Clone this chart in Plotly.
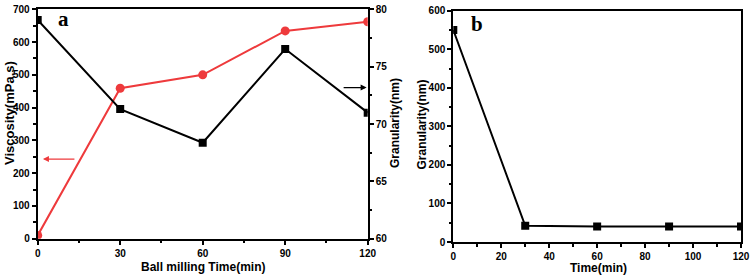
import plotly.graph_objects as go

# ---- data ----
time_a = [0, 30, 60, 90, 120]
viscosity = [10, 459, 500, 634, 662]
granularity_a = [79.07, 71.3, 68.37, 76.54, 70.99]

time_b = [0, 30, 60, 90, 120]
granularity_b = [550, 42, 40, 40, 40]

xticks_a = [0, 30, 60, 90, 120]
yticks_visc = [0, 100, 200, 300, 400, 500, 600, 700]
yticks_gran_a = [60, 65, 70, 75, 80]
xticks_b = [0, 20, 40, 60, 80, 100, 120]
yticks_b = [0, 100, 200, 300, 400, 500, 600]

RED = "#ee3a3c"
W, H = 751, 276

fig = go.Figure()

fig.add_trace(go.Scatter(
    x=time_a, y=viscosity, mode="lines+markers", xaxis="x", yaxis="y",
    line=dict(color=RED, width=2), marker=dict(symbol="circle", size=9, color=RED),
    showlegend=False))
fig.add_trace(go.Scatter(
    x=time_a, y=granularity_a, mode="lines+markers", xaxis="x", yaxis="y2",
    line=dict(color="black", width=2), marker=dict(symbol="square", size=8, color="black"),
    showlegend=False))
fig.add_trace(go.Scatter(
    x=time_b, y=granularity_b, mode="lines+markers", xaxis="x2", yaxis="y3",
    line=dict(color="black", width=2), marker=dict(symbol="square", size=8, color="black"),
    showlegend=False))

tickfont = dict(family="Arial, Liberation Sans", size=10, color="black", weight="bold")
common = dict(showgrid=False, zeroline=False, showline=True, linecolor="black", linewidth=2,
              ticks="outside", ticklen=4, tickwidth=1.5, tickcolor="black", tickfont=tickfont,
              automargin=False)

def px_x(p):
    return p / W

def px_y(p):
    return 1 - p / H

fig.update_layout(
    width=W, height=H, margin=dict(l=0, r=0, t=0, b=0, autoexpand=False),
    paper_bgcolor="white", plot_bgcolor="white",
    xaxis=dict(domain=[px_x(37.7), px_x(367.7)], range=[0, 120], tickvals=xticks_a,
               mirror=True, anchor="y",
               minor=dict(ticks="outside", ticklen=2.5, tickwidth=1.5, tickcolor="black", dtick=15),
               **common),
    yaxis=dict(domain=[px_y(238.7), px_y(9.3)], range=[0, 700], tickvals=yticks_visc,
               anchor="x",
               minor=dict(ticks="outside", ticklen=2.5, tickwidth=1.5, tickcolor="black", dtick=50),
               **common),
    yaxis2=dict(domain=[px_y(238.7), px_y(9.3)], range=[60, 80], tickvals=yticks_gran_a,
                overlaying="y", side="right", anchor="x",
                minor=dict(ticks="outside", ticklen=2.5, tickwidth=1.5, tickcolor="black", dtick=2.5),
                **common),
    xaxis2=dict(domain=[px_x(453.3), px_x(741)], range=[0, 120], tickvals=xticks_b,
                mirror=True, anchor="y3",
                minor=dict(ticks="outside", ticklen=2.5, tickwidth=1.5, tickcolor="black", dtick=10),
                **common),
    yaxis3=dict(domain=[px_y(242), px_y(10.7)], range=[0, 600], tickvals=yticks_b,
                mirror=True, anchor="x2",
                minor=dict(ticks="outside", ticklen=2.5, tickwidth=1.5, tickcolor="black", dtick=50),
                **common),
)

titlefont = dict(family="Arial, Liberation Sans", size=12, color="black", weight="bold")
labfont = dict(family="Times New Roman, Liberation Serif", size=21, color="black", weight="bold")

def label(text, x, y, font, angle=0):
    return dict(text=text, x=px_x(x), y=px_y(y), xref="paper", yref="paper",
                xanchor="center", yanchor="middle", textangle=angle,
                showarrow=False, font=font)

annotations = [
    label("Viscosity(mPa.s)", 9, 113, dict(titlefont, size=13), -90),
    label("Granularity(nm)", 395, 123, titlefont, -90),
    label("Granularity(nm)", 421.5, 125, titlefont, -90),
    label("Ball milling Time(min)", 203, 266.5, titlefont),
    label("Time(min)", 598, 268, titlefont),
    label("a", 63, 19, labfont),
    label("b", 477, 24, labfont),
    # red arrow pointing to left axis
    dict(x=1.9, y=243, xref="x", yref="y", ax=13.9, ay=243, axref="x", ayref="y",
         showarrow=True, arrowhead=2, arrowsize=1, arrowwidth=1.2, arrowcolor=RED, text=""),
    # black arrow pointing to right axis
    dict(x=119.6, y=73.18, xref="x", yref="y2", ax=110.7, ay=73.18, axref="x", ayref="y2",
         showarrow=True, arrowhead=2, arrowsize=1, arrowwidth=1.2, arrowcolor="black", text=""),
]
fig.update_layout(annotations=annotations)

fig.write_html("out.html", config={"displayModeBar": False},
               post_script="document.body.style.margin='0';")
